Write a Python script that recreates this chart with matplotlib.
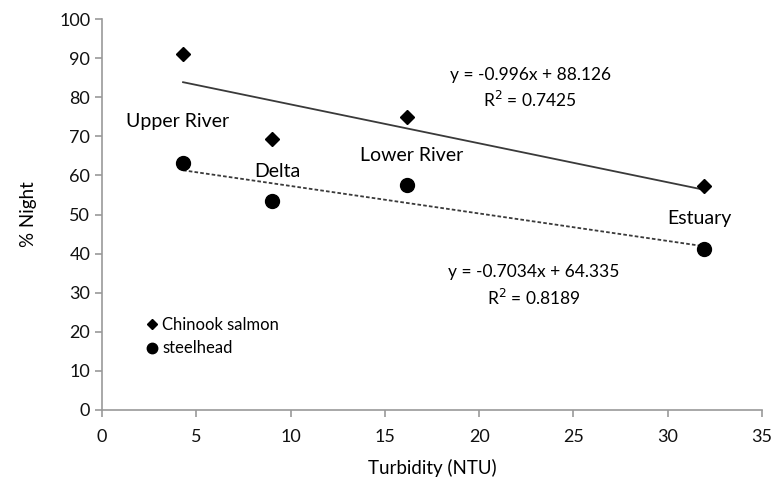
import numpy as np
import matplotlib
matplotlib.use('Agg')
import matplotlib.pyplot as plt

plt.rcParams['font.family'] = ['Lato', 'DejaVu Sans']

# turbidity (NTU) per site
sites = ['Upper River', 'Delta', 'Lower River', 'Estuary']
turbidity = [4.3, 9.0, 16.2, 31.9]
chinook = [91.0, 69.3, 74.9, 57.3]
steelhead = [63.3, 53.4, 57.6, 41.2]

# trendline coefficients as printed
chin_fit = (-0.996, 88.126, 0.7425)
steel_fit = (-0.7034, 64.335, 0.8189)

label_pos = [(4.0, 73.9), (9.3, 60.9), (16.4, 65.2), (31.7, 49.1)]

fig = plt.figure(figsize=(7.82, 4.84), dpi=100)
ax = fig.add_axes([0.1304, 0.1529, 0.8440, 0.8078])

x = np.array(turbidity)
xl = np.array([x.min(), x.max()])
ax.plot(xl, chin_fit[0]*xl + chin_fit[1], color='#3a3a3a', lw=1.3, zorder=2)
ax.plot(xl, steel_fit[0]*xl + steel_fit[1], color='#3a3a3a', lw=1.3,
        linestyle=(0, (2, 1.2)), zorder=2)

ax.plot(x, chinook, 'D', color='black', markersize=7, linestyle='none',
        label='Chinook salmon', zorder=3)
ax.plot(x, steelhead, 'o', color='black', markersize=10, linestyle='none',
        label='steelhead', zorder=3)

for s, (px, py) in zip(sites, label_pos):
    ax.text(px, py, s, ha='center', va='center', fontsize=14)

ax.text(22.7, 85.7, 'y = -0.996x + 88.126', ha='center', va='center', fontsize=12.5)
ax.text(22.7, 79.3, 'R$^2$ = 0.7425', ha='center', va='center', fontsize=12.5)
ax.text(22.9, 35.3, 'y = -0.7034x + 64.335', ha='center', va='center', fontsize=12.5)
ax.text(22.9, 28.6, 'R$^2$ = 0.8189', ha='center', va='center', fontsize=12.5)

ax.set_xlim(0, 35)
ax.set_ylim(0, 100)
ax.set_xticks(range(0, 36, 5))
ax.set_yticks(range(0, 101, 10))
for sp in ['top', 'right']:
    ax.spines[sp].set_visible(False)
for sp in ['left', 'bottom']:
    ax.spines[sp].set_color('#999999')
    ax.spines[sp].set_linewidth(1.2)
ax.tick_params(colors='#999999', labelcolor='#111111', labelsize=13,
               length=5, width=1.2, direction='out')
ax.tick_params(axis='x', pad=9)

ax.set_xlabel('Turbidity (NTU)', fontsize=13.5, labelpad=10)
ax.set_ylabel('% Night', fontsize=13.5, labelpad=16)

leg = ax.legend(loc='upper left', bbox_to_anchor=(0.055, 0.255), frameon=False,
                fontsize=12, handletextpad=0.15, handlelength=0.9,
                labelspacing=0.45, borderaxespad=0, markerscale=0.75)

fig.savefig('out.png', dpi=100)
